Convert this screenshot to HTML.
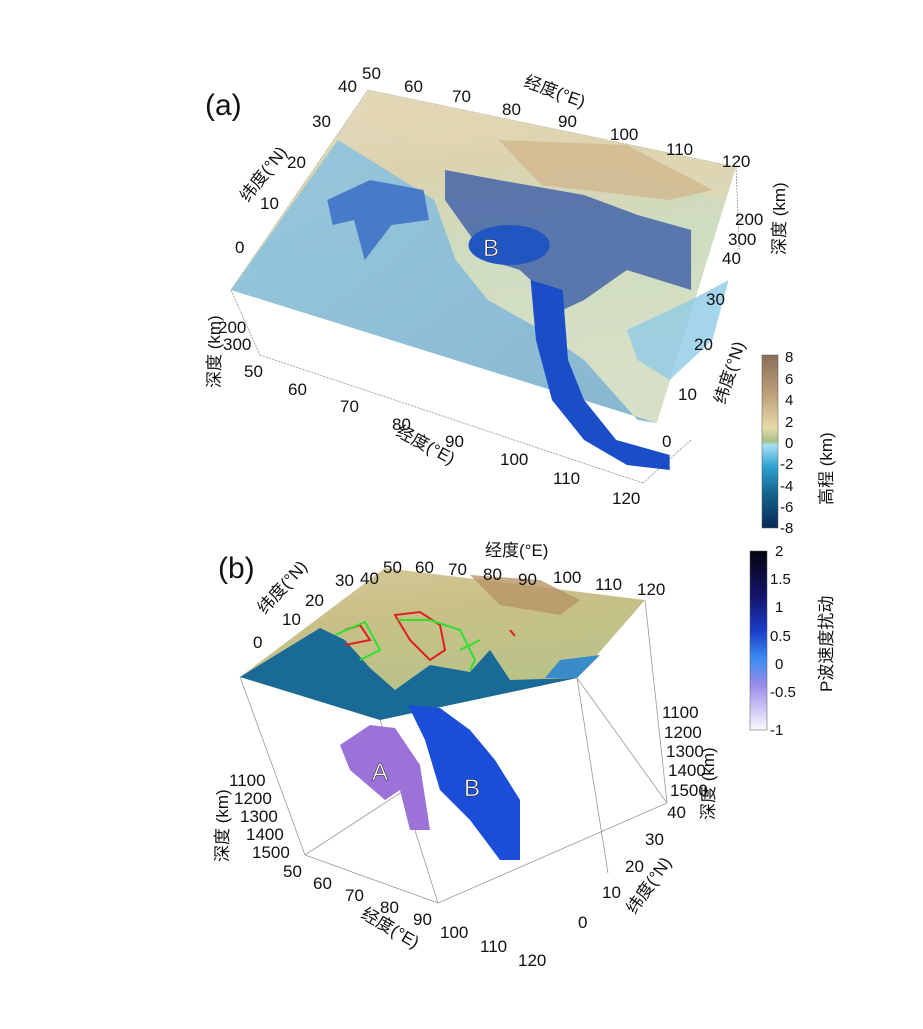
<!DOCTYPE html>
<html><head><meta charset="utf-8"><style>
body{margin:0;background:#fff;}
svg text{font-family:"Liberation Sans","Noto Sans CJK SC",sans-serif;fill:#111;}
</style></head><body>
<svg width="923" height="1024" viewBox="0 0 923 1024" xmlns="http://www.w3.org/2000/svg">
<defs>
<linearGradient id="ma" x1="0" y1="0" x2="0.2" y2="1">
<stop offset="0" stop-color="#e4dcc0"/><stop offset="0.3" stop-color="#dcd2ae"/><stop offset="0.55" stop-color="#cfdcc0"/><stop offset="1" stop-color="#d7e0c6"/></linearGradient>
<linearGradient id="sea" x1="0" y1="0" x2="1" y2="1">
<stop offset="0" stop-color="#8fc6e0"/><stop offset="1" stop-color="#7fb3d2"/></linearGradient>
<linearGradient id="cb1" x1="0" y1="0" x2="0" y2="1">
<stop offset="0" stop-color="#8a6e58"/><stop offset="0.25" stop-color="#c2a67e"/><stop offset="0.42" stop-color="#e6dba8"/><stop offset="0.5" stop-color="#a9c086"/><stop offset="0.52" stop-color="#a8e0f6"/><stop offset="0.65" stop-color="#2ca0d0"/><stop offset="0.8" stop-color="#12648e"/><stop offset="1" stop-color="#0a2a56"/></linearGradient>
<linearGradient id="cb2" x1="0" y1="0" x2="0" y2="1">
<stop offset="0" stop-color="#050510"/><stop offset="0.25" stop-color="#14146a"/><stop offset="0.45" stop-color="#1a3ecc"/><stop offset="0.6" stop-color="#3a8cf0"/><stop offset="0.75" stop-color="#9c8ce8"/><stop offset="1" stop-color="#fafaff"/></linearGradient>
<linearGradient id="mb" x1="0" y1="0" x2="0.3" y2="1">
<stop offset="0" stop-color="#d6c896"/><stop offset="0.4" stop-color="#c8c088"/><stop offset="1" stop-color="#b4c488"/></linearGradient>
</defs>

<!-- Panel a -->
<text x="205" y="115" font-size="30">(a)</text>
<g transform="translate(231,0) scale(1.07,1) translate(-230,0)">
<g stroke="#999" stroke-width="0.8" fill="none" stroke-dasharray="2,1">
<line x1="358" y1="90" x2="702" y2="167"/>
<line x1="358" y1="90" x2="230" y2="290"/>
<line x1="230" y1="290" x2="257" y2="355"/>
<line x1="257" y1="355" x2="615" y2="483"/>
<line x1="615" y1="483" x2="660" y2="440"/>
<line x1="702" y1="167" x2="705" y2="250"/>
<line x1="358" y1="90" x2="372" y2="160"/>
</g>
<polygon points="358,90 702,167 628,423 230,290" fill="url(#ma)"/>
<polygon points="358,90 702,167 690,200 560,160 450,150 400,140 350,120" fill="#e2d6b0" opacity="0.6"/>
<polygon points="480,140 600,145 680,190 640,200 520,185" fill="#d1b88e" opacity="0.8"/>
<polygon points="230,290 330,140 420,200 440,260 470,300 520,330 560,360 610,420 628,423" fill="url(#sea)" opacity="0.9"/>
<polygon points="600,330 660,300 695,280 680,340 640,380 610,360" fill="#8fcbe6" opacity="0.8"/>
<polygon points="320,200 360,180 410,190 415,220 380,225 355,260 345,220 325,225" fill="#3a6ec8" opacity="0.85"/>
<polygon points="430,170 480,180 560,195 610,215 660,230 660,290 600,270 560,300 540,310 520,290 500,270 470,260 450,230 430,200" fill="#3b5ca8" opacity="0.8"/>
<ellipse cx="490" cy="245" rx="38" ry="20" fill="#1f56c0"/>
<polygon points="510,280 540,290 545,360 560,400 590,440 640,455 640,470 600,465 560,440 530,400 515,340" fill="#1a4ec8"/>
</g>
<text x="483" y="256" font-size="24" style="fill:#fff" stroke="#224" stroke-width="0.6">B</text>
<g font-size="17">
<text x="362" y="79">50</text><text x="338" y="92">40</text>
<text x="404" y="92">60</text><text x="452" y="102">70</text><text x="502" y="115">80</text>
<text x="558" y="127">90</text><text x="610" y="140">100</text><text x="666" y="155">110</text><text x="722" y="167">120</text>
<text x="523" y="86" transform="rotate(20 523 86)">经度(°E)</text>
<text x="312" y="127">30</text><text x="287" y="168">20</text><text x="260" y="209">10</text><text x="235" y="253">0</text>
<text x="248" y="203" transform="rotate(-52 248 203)">纬度(°N)</text>
<text x="735" y="225">200</text><text x="728" y="245">300</text><text x="722" y="264">40</text>
<text x="785" y="255" transform="rotate(-90 785 255)">深度 (km)</text>
<text x="706" y="305">30</text><text x="694" y="350">20</text><text x="678" y="400">10</text><text x="662" y="447">0</text>
<text x="725" y="405" transform="rotate(-72 725 405)">纬度(°N)</text>
<text x="218" y="333">200</text><text x="223" y="350">300</text><text x="244" y="377">50</text>
<text x="220" y="388" transform="rotate(-90 220 388)">深度 (km)</text>
<text x="288" y="395">60</text><text x="340" y="412">70</text><text x="392" y="430">80</text>
<text x="445" y="447">90</text><text x="500" y="465">100</text><text x="553" y="484">110</text><text x="612" y="504">120</text>
<text x="395" y="435" transform="rotate(28 395 435)">经度(°E)</text>
</g>
<rect x="762" y="355" width="16" height="173" fill="url(#cb1)" stroke="#555" stroke-width="0.5"/>
<g font-size="15"><text x="785" y="362">8</text><text x="785" y="384">6</text><text x="785" y="405">4</text><text x="785" y="427">2</text><text x="785" y="448">0</text><text x="780" y="469">-2</text><text x="780" y="491">-4</text><text x="780" y="512">-6</text><text x="780" y="533">-8</text>
<text x="832" y="505" transform="rotate(-90 832 505)" font-size="17">高程 (km)</text></g>

<!-- Panel b -->
<text x="218" y="578" font-size="30">(b)</text>
<g stroke="#999" stroke-width="0.8" fill="none">
<line x1="240" y1="677" x2="305" y2="855"/>
<line x1="305" y1="855" x2="438" y2="903"/>
<line x1="438" y1="903" x2="667" y2="803"/>
<line x1="667" y1="803" x2="645" y2="600"/>
<line x1="380" y1="720" x2="438" y2="903"/>
<line x1="577" y1="678" x2="608" y2="873"/>
<line x1="305" y1="855" x2="420" y2="780"/>
<line x1="577" y1="678" x2="667" y2="803"/>
</g>
<polygon points="385,568 645,600 577,678 380,720 240,677" fill="url(#mb)"/>
<polygon points="240,677 320,628 345,640 370,668 395,690 430,665 470,672 490,650 510,680 577,678 380,720" fill="#1a6a98"/>
<polygon points="560,660 600,655 577,678 545,678" fill="#3a8cc8"/>
<polygon points="470,575 540,580 580,600 560,615 500,605" fill="#b79466" opacity="0.8"/>
<path d="M345,630 L360,625 L370,640 L345,645 M395,615 L420,612 L440,625 L445,650 L430,660 L410,640 Z M510,630 L515,636 Z" stroke="#e02020" stroke-width="2" fill="none"/>
<path d="M335,635 L365,622 L380,650 L360,660 M398,620 L430,620 L460,630 L475,660 L470,670 M480,640 L460,650" stroke="#30e030" stroke-width="2" fill="none"/>
<polygon points="340,745 370,725 395,728 420,765 430,830 410,830 400,790 385,800 350,770" fill="#9a72d8"/>
<polygon points="408,705 440,708 470,730 495,760 520,800 520,860 500,860 470,820 440,790 425,740" fill="#1a4ed8"/>
<text x="372" y="780" font-size="24" style="fill:#fff" stroke="#333" stroke-width="0.6">A</text>
<text x="464" y="796" font-size="24" style="fill:#fff" stroke="#333" stroke-width="0.6">B</text>
<g font-size="17">
<text x="383" y="573">50</text><text x="360" y="584">40</text><text x="415" y="573">60</text><text x="448" y="575">70</text><text x="483" y="580">80</text><text x="518" y="585">90</text><text x="553" y="583">100</text><text x="595" y="590">110</text><text x="637" y="595">120</text>
<text x="485" y="556">经度(°E)</text>
<text x="335" y="586">30</text><text x="305" y="606">20</text><text x="282" y="625">10</text><text x="253" y="648">0</text>
<text x="265" y="615" transform="rotate(-48 265 615)">纬度(°N)</text>
<text x="662" y="718">1100</text><text x="664" y="738">1200</text><text x="666" y="757">1300</text><text x="668" y="776">1400</text><text x="670" y="796">1500</text>
<text x="714" y="820" transform="rotate(-90 714 820)">深度 (km)</text>
<text x="667" y="818">40</text><text x="645" y="845">30</text><text x="625" y="872">20</text><text x="602" y="898">10</text><text x="578" y="928">0</text>
<text x="635" y="915" transform="rotate(-55 635 915)">纬度(°N)</text>
<text x="229" y="786">1100</text><text x="234" y="804">1200</text><text x="240" y="822">1300</text><text x="246" y="840">1400</text><text x="252" y="858">1500</text>
<text x="228" y="862" transform="rotate(-90 228 862)">深度 (km)</text>
<text x="283" y="877">50</text><text x="313" y="889">60</text><text x="345" y="901">70</text><text x="380" y="913">80</text><text x="413" y="925">90</text><text x="440" y="938">100</text><text x="480" y="952">110</text><text x="518" y="966">120</text>
<text x="360" y="917" transform="rotate(30 360 917)">经度(°E)</text>
</g>
<rect x="750" y="551" width="17" height="179" fill="url(#cb2)" stroke="#555" stroke-width="0.5"/>
<g font-size="15"><text x="775" y="556">2</text><text x="770" y="584">1.5</text><text x="775" y="612">1</text><text x="770" y="641">0.5</text><text x="775" y="669">0</text><text x="770" y="697">-0.5</text><text x="770" y="735">-1</text>
<text x="832" y="692" transform="rotate(-90 832 692)" font-size="17">P波速度扰动</text></g>
</svg>
</body></html>
